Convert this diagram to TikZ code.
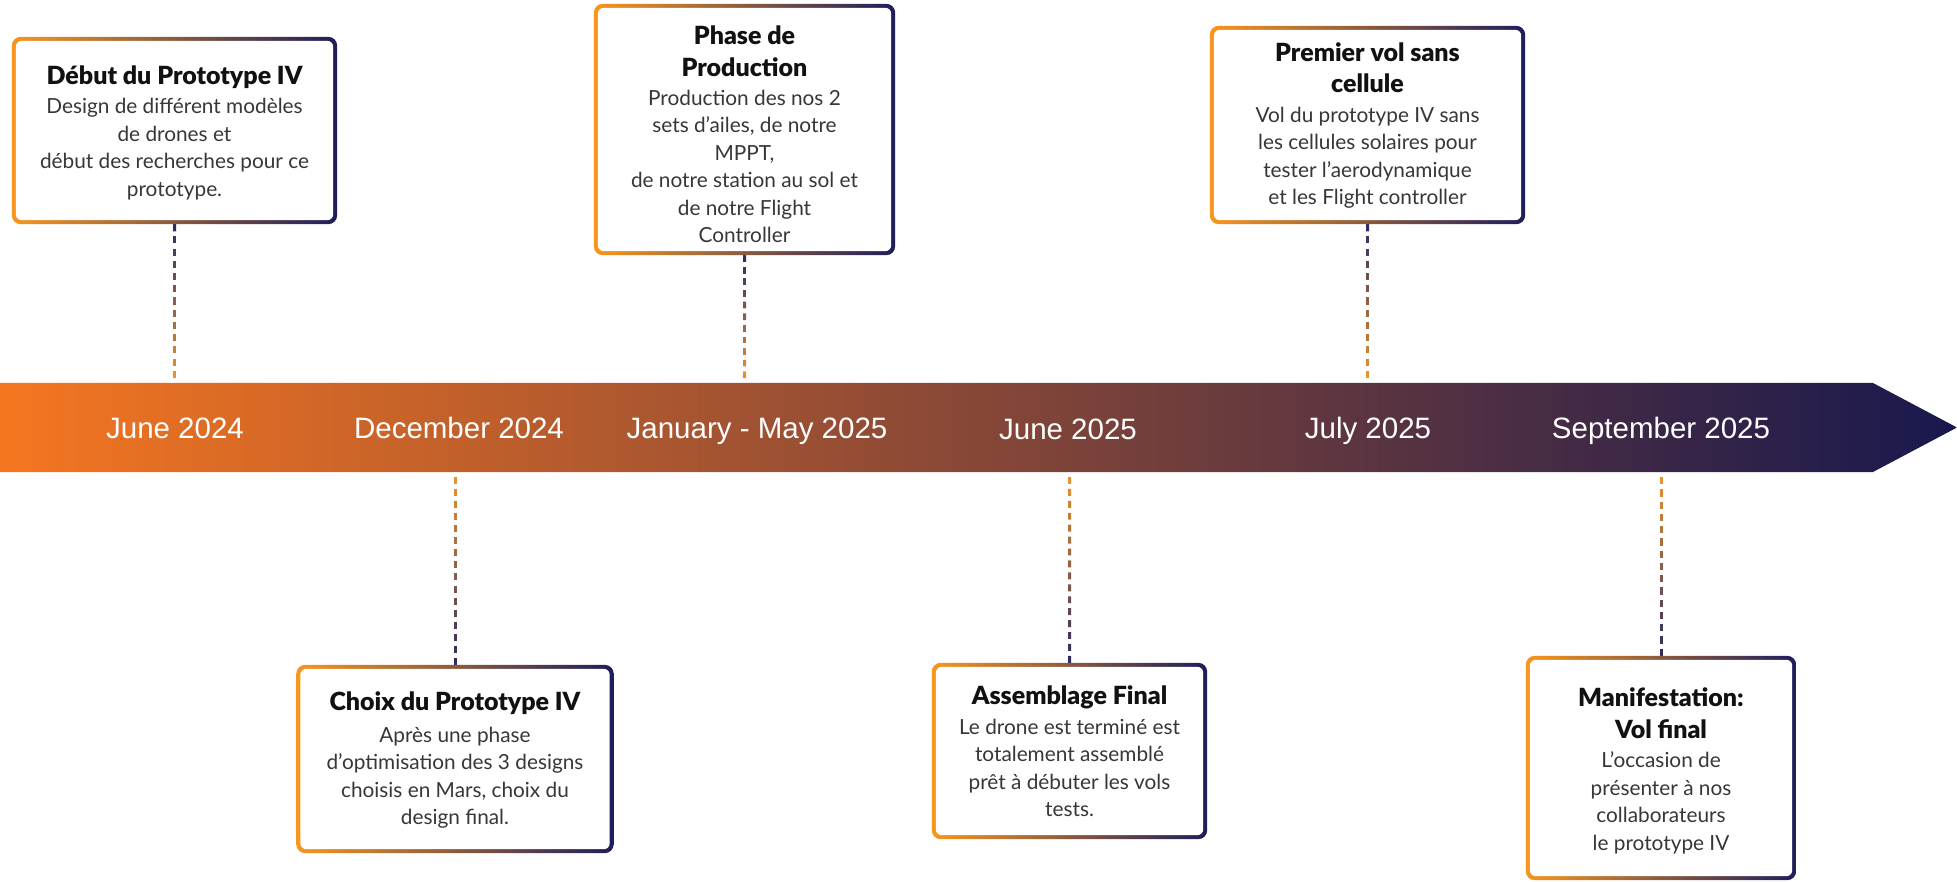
\documentclass[tikz,border=0pt]{standalone}
\usepackage{fontspec}
\setmainfont{Lato}
\IfFontExistsTF{Lato Black}{\newfontfamily\ttlfont{Lato Black}}{\newfontfamily\ttlfont{Lato}[UprightFont=*-Bold]}
\newfontfamily\lblfont{Liberation Sans}
\usetikzlibrary{calc}
\definecolor{bandO}{RGB}{245,118,32}
\definecolor{bandN}{RGB}{24,24,78}
\definecolor{bO}{RGB}{248,150,30}
\definecolor{bN}{RGB}{30,30,92}
\definecolor{cO}{RGB}{240,150,40}
\definecolor{cN}{RGB}{40,40,100}
\definecolor{txtT}{RGB}{17,17,17}
\definecolor{txtB}{RGB}{55,55,55}
\newcommand{\gconn}[3]{%
  \foreach \i in {1,...,#3}{%
    \pgfmathsetmacro{\gca}{(\i-1)/#3}%
    \pgfmathsetmacro{\gcb}{(\i-0.42)/#3}%
    \pgfmathtruncatemacro{\gpc}{100*(\i-0.5)/#3}%
    \draw[conn, draw=cO!\gpc!cN] ($(#1)!\gca!(#2)$) -- ($(#1)!\gcb!(#2)$);
  }}
\newcommand{\gbox}[1]{%
  \shade[left color=bO, right color=bN, rounded corners=9pt] (#1.south west) rectangle (#1.north east);
  \fill[white, rounded corners=6pt] ([xshift=4pt,yshift=4pt]#1.south west) rectangle ([xshift=-4pt,yshift=-4pt]#1.north east);}
\begin{document}
\begin{tikzpicture}[x=1pt,y=-1pt,
  boxn/.style={inner sep=0pt, draw=none},
  ttl/.style={align=center, inner sep=0pt, text=txtT, font=\ttlfont\fontsize{25}{31.5}\selectfont},
  bdy/.style={align=center, inner sep=0pt, text=txtB, font=\fontsize{20.8}{27.5}\selectfont},
  lbl/.style={inner sep=0pt, text=white, font=\lblfont\fontsize{29.5}{30}\selectfont, text height=21pt, text depth=0pt},
  conn/.style={line width=3pt}]
\useasboundingbox (0,0) rectangle (1957,882);
% timeline band
\shade[left color=bandO, right color=bandN] (0,383) -- (1873,383) -- (1957,427.5) -- (1873,472) -- (0,472) -- cycle;
\coordinate (bandT) at (0,383);
\coordinate (bandB) at (0,472);
% box anchors
\node[boxn, minimum width=325pt, minimum height=187pt] (b1) at (174.5,130.5) {};
\node[boxn, minimum width=301pt, minimum height=251pt] (b2) at (744.5,129.5) {};
\node[boxn, minimum width=315pt, minimum height=198pt] (b3) at (1367.5,125) {};
\node[boxn, minimum width=317pt, minimum height=188pt] (b4) at (455,759) {};
\node[boxn, minimum width=275pt, minimum height=176pt] (b5) at (1069.5,751) {};
\node[boxn, minimum width=270pt, minimum height=224pt] (b6) at (1661,768) {};
% connectors
\coordinate (c1) at (b1.south |- bandT);
\coordinate (c2) at (b2.south |- bandT);
\coordinate (c3) at (b3.south |- bandT);
\coordinate (c4) at (b4.north |- bandB);
\coordinate (c5) at (b5.north |- bandB);
\coordinate (c6) at (b6.north |- bandB);
\gconn{b1.south}{c1}{13}
\gconn{b2.south}{c2}{11}
\gconn{b3.south}{c3}{13}
\gconn{b4.north}{c4}{16}
\gconn{b5.north}{c5}{16}
\gconn{b6.north}{c6}{15}
% boxes
\gbox{b1}\gbox{b2}\gbox{b3}\gbox{b4}\gbox{b5}\gbox{b6}
% texts
\node[ttl] (t1) at (174.5,77) {Début du Prototype IV};
\node[bdy] (d1) at (174.5,149) {Design de différent modèles\\de drones et\\début des recherches pour ce\\prototype.};
\node[ttl] (t2) at (744.5,51) {Phase de\\Production};
\node[bdy] (d2) at (744.5,166.5) {Production des nos 2\\sets d’ailes, de notre\\MPPT,\\de notre station au sol et\\de notre Flight\\Controller};
\node[ttl] (t3) at (1367.5,67.5) {Premier vol sans\\cellule};
\node[bdy] (d3) at (1367.5,157.5) {Vol du prototype IV sans\\les cellules solaires pour\\tester l’aerodynamique\\et les Flight controller};
\node[ttl] (t4) at (455,703) {Choix du Prototype IV};
\node[bdy] (d4) at (455,777.5) {Après une phase\\d’optimisation des 3 designs\\choisis en Mars, choix du\\design final.};
\node[ttl] (t5) at (1069.5,697) {Assemblage Final};
\node[bdy] (d5) at (1069.5,768) {Le drone est terminé est\\totalement assemblé\\prêt à débuter les vols\\tests.};
\node[ttl] (t6) at (1661,713) {Manifestation:\\Vol final};
\node[bdy] (d6) at (1661,803) {L’occasion de\\présenter à nos\\collaborateurs\\le prototype IV};
% dates
\node[lbl] (l1) at (175,428) {June 2024};
\node[lbl] (l2) at (459,428) {December 2024};
\node[lbl] (l3) at (757,428) {January - May 2025};
\node[lbl] (l4) at (1068,429) {June 2025};
\node[lbl] (l5) at (1368,428) {July 2025};
\node[lbl] (l6) at (1661,428) {September 2025};
\end{tikzpicture}
\end{document}
